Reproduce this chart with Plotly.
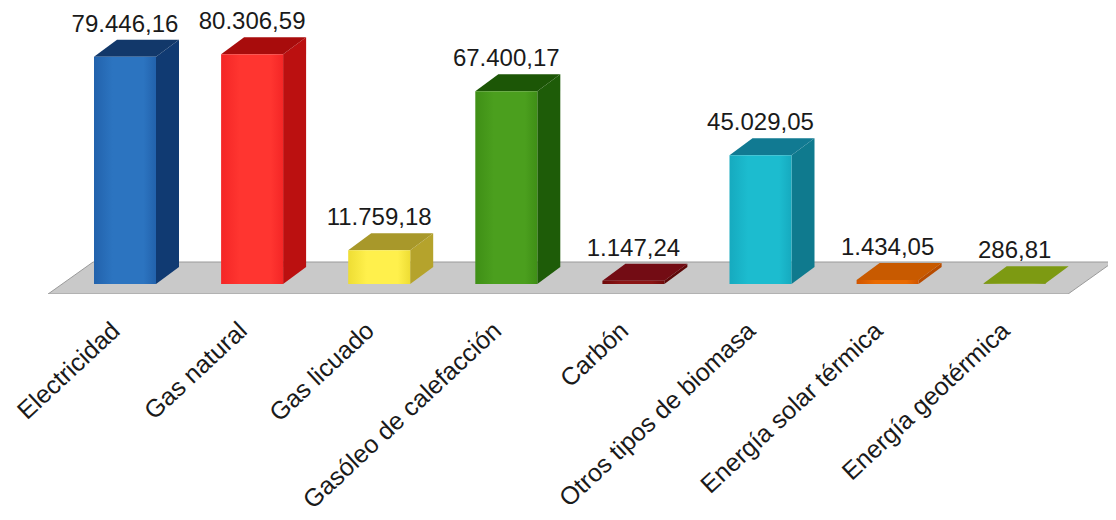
import plotly.graph_objects as go

categories = ["Electricidad", "Gas natural", "Gas licuado", "Gasóleo de calefacción",
              "Carbón", "Otros tipos de biomasa", "Energía solar térmica", "Energía geotérmica"]
values = [79446.16, 80306.59, 11759.18, 67400.17, 1147.24, 45029.05, 1434.05, 286.81]
value_labels = ["79.446,16", "80.306,59", "11.759,18", "67.400,17",
                "1.147,24", "45.029,05", "1.434,05", "286,81"]
front_edge = ["#2262ac", "#f42626", "#eedd34", "#3f8f16", "#6e0a0a", "#16aabf", "#d05500", "#6f8c00"]
front_mid = ["#2c74c0", "#ff3530", "#fff04c", "#4b9f1e", "#8a1414", "#1cbccf", "#e96a00", "#86a310"]
side_cols = ["#103a72", "#bb1010", "#b5a32c", "#1e5c08", "#5c0808", "#0f7a8e", "#b84c00", "#6f8a08"]
top_cols = ["#12386a", "#a80c0c", "#a8982a", "#1c5606", "#730c14", "#117a92", "#c85a00", "#7d9a12"]

FIG_W, FIG_H = 1108, 512   # page body adds an 8 px margin
PX_X = 127.1      # pixels per category
PX_Y = 1 / 349.65 # pixels per value unit
X0 = 117
HALF = 31 / PX_X
DX = 23 / PX_X
DY = 17 / PX_Y
FLOOR_X0, FLOOR_X1 = -0.605, 7.42
FLOOR_DX = 45 / PX_X
FLOOR_LOW, FLOOR_HIGH = -10 / PX_Y, 22 / PX_Y
LABEL_SHIFT = 12 / PX_X

fig = go.Figure()


def poly(xs, ys, color=None, gradient=None, line=None):
    kw = dict(fillgradient=gradient) if gradient else dict(fillcolor=color)
    fig.add_trace(go.Scatter(x=xs, y=ys, mode="lines", fill="toself",
                             line=dict(color=line or "rgba(0,0,0,0)", width=1),
                             hoverinfo="skip", showlegend=False, **kw))


poly([FLOOR_X0, FLOOR_X0 + FLOOR_DX, FLOOR_X1 + FLOOR_DX, FLOOR_X1, FLOOR_X0],
     [FLOOR_LOW, FLOOR_HIGH, FLOOR_HIGH, FLOOR_LOW, FLOOR_LOW], color="#c9c9c9", line="#9a9a9a")

for i, v in enumerate(values):
    l, r = i - HALF, i + HALF
    poly([r, r + DX, r + DX, r, r], [0, DY, v + DY, v, 0], color=side_cols[i])
    poly([l, l + DX, r + DX, r, l], [v, v + DY, v + DY, v, v], color=top_cols[i])
    grad = dict(type="horizontal", colorscale=[[0, front_edge[i]], [0.3, front_mid[i]],
                                               [0.8, front_mid[i]], [1, front_edge[i]]])
    poly([l, r, r, l, l], [0, 0, v, v, 0], gradient=grad)

fig.add_trace(go.Scatter(x=list(range(len(values))), y=[v + DY + 2 / PX_Y for v in values],
                         mode="text", text=value_labels, textposition="top center",
                         textfont=dict(family="Liberation Sans", size=24, color="#1a1a1a"),
                         hoverinfo="skip", showlegend=False, cliponaxis=False))

fig.update_layout(
    width=FIG_W, height=FIG_H, paper_bgcolor="white", plot_bgcolor="white",
    margin=dict(l=0, r=0, t=0, b=226), showlegend=False,
    xaxis=dict(range=[-X0 / PX_X, (FIG_W - X0) / PX_X], tickmode="array",
               tickvals=[i - LABEL_SHIFT for i in range(len(categories))], ticktext=categories,
               tickangle=-43, ticklabeloverflow="allow",
               tickfont=dict(family="Liberation Sans", size=25, color="#1a1a1a"),
               showgrid=False, zeroline=False, showline=False, ticks="", automargin=False,
               ticklabelstandoff=16),
    yaxis=dict(range=[-10 / PX_Y, 276 / PX_Y], visible=False, automargin=False),
)
fig.write_html("out.html")
